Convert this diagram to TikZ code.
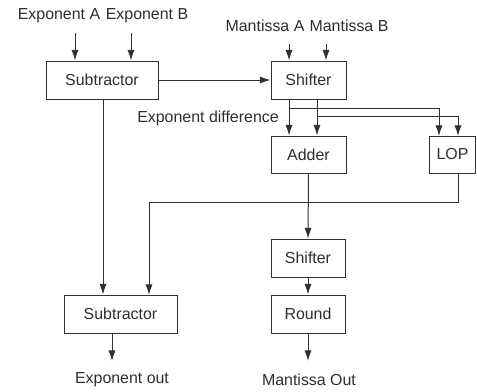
\documentclass[tikz,border=0pt]{standalone}
\usepackage{fontspec}
\setmainfont{Liberation Sans}
\usetikzlibrary{arrows.meta,calc}
\definecolor{ln}{HTML}{303030}
\definecolor{tx}{HTML}{2E2E2E}
\begin{document}
\begin{tikzpicture}[x=0.03cm,y=-0.03cm,
  blk/.style={draw=ln,line width=0.85pt,fill=white,inner sep=0pt,text=tx,font=\fontsize{13.6}{15}\selectfont},
  lbl/.style={text=tx,inner sep=0pt,font=\fontsize{13.6}{15}\selectfont},
  wire/.style={draw=ln,line width=0.85pt},
  arr/.style={wire,-{Latex[length=9pt,width=6pt]}}]
\useasboundingbox (0,0) rectangle (477,391);
% blocks
\node[blk,minimum width=112*0.03cm,minimum height=38*0.03cm] (sub1) at (102,80) {Subtractor};
\node[blk,minimum width=75*0.03cm,minimum height=38*0.03cm] (sh1) at (308.5,80) {Shifter};
\node[blk,minimum width=75*0.03cm,minimum height=37*0.03cm] (add) at (308.5,154.5) {Adder};
\node[blk,minimum width=46*0.03cm,minimum height=37*0.03cm] (lop) at (452.5,154.5) {LOP};
\node[blk,minimum width=113*0.03cm,minimum height=38*0.03cm] (sub2) at (120.5,314) {Subtractor};
\node[blk,minimum width=74*0.03cm,minimum height=38*0.03cm] (sh2) at (308,258) {Shifter};
\node[blk,minimum width=74*0.03cm,minimum height=38*0.03cm] (rnd) at (308,314) {Round};
% labels
\node[lbl] (expa) at (59,15.5) {Exponent A};
\node[lbl] (expb) at (147,15.5) {Exponent B};
\node[lbl] (mana) at (265,25.5) {Mantissa A};
\node[lbl] (manb) at (349,25.5) {Mantissa B};
\node[lbl] (ediff) at (208,118.5) {Exponent difference};
\node[lbl] (eout) at (122,379.5) {Exponent out};
\node[lbl] (mout) at (309,379.5) {Mantissa Out};
% free ends
\coordinate (ea) at (75,33);
\coordinate (eb) at (131,33);
\coordinate (ma) at (289,44);
\coordinate (mb) at (326,44);
\coordinate (s1a) at (289,99);
\coordinate (s1b) at (317,99);
\coordinate (lopa) at (439,136);
\coordinate (lopb) at (458,136);
\coordinate (lopo) at (458,173);
\coordinate (turn) at (458,202);
\coordinate (sub2b) at (149,295);
\coordinate (sub1o) at (103,99);
\coordinate (sub2o) at (112,333);
\coordinate (eoe) at (112,361);
\coordinate (moe) at (308,361);
% connectors
\draw[arr] (ea) -- (ea |- sub1.north);
\draw[arr] (eb) -- (eb |- sub1.north);
\draw[arr] (ma) -- (ma |- sh1.north);
\draw[arr] (mb) -- (mb |- sh1.north);
\draw[arr] (sub1.east) -- (sh1.west);
\draw[arr] (s1a) -- (s1a |- add.north);
\draw[arr] (s1b) -- (s1b |- add.north);
\draw[arr] ($(s1a)+(0,9)$) -| (lopa);
\draw[arr] ($(s1b)+(0,17)$) -| (lopb);
\draw[arr] (add.south) -- (sh2.north);
\draw[arr] (lopo) -- (turn) -| (sub2b);
\draw[arr] (sub1o) -- (sub1o |- sub2.north);
\draw[arr] (sh2.south) -- (rnd.north);
\draw[arr] (sub2o) -- (eoe);
\draw[arr] (rnd.south) -- (moe);
\end{tikzpicture}
\end{document}
